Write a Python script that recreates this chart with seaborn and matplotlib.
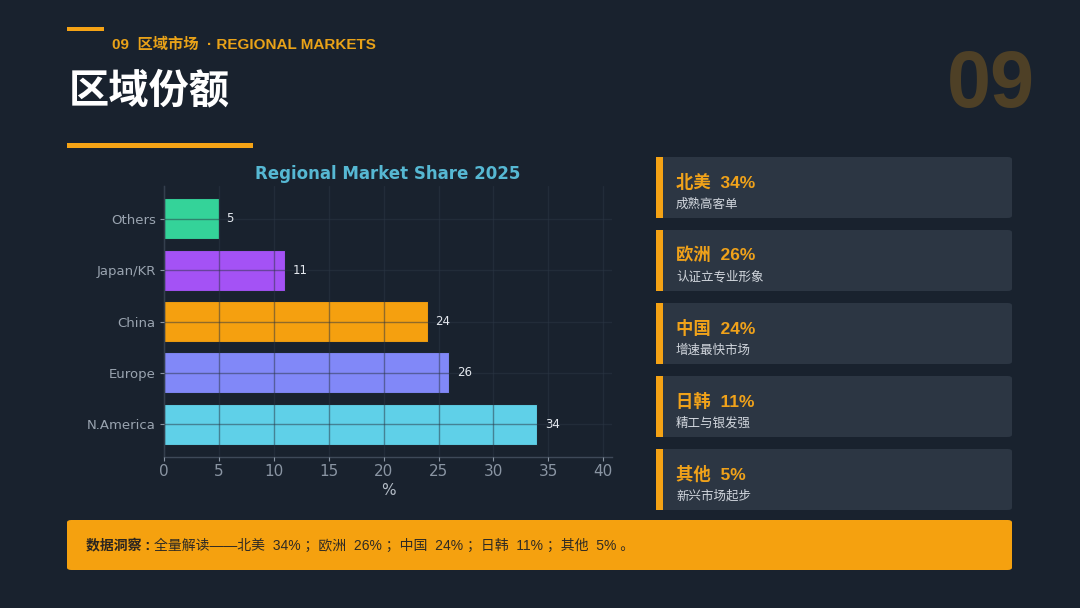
import matplotlib.pyplot as plt
import seaborn as sns
from matplotlib.patches import FancyBboxPatch, Rectangle

# data
regions = ['N.America', 'Europe', 'China', 'Japan/KR', 'Others']
shares = [34, 26, 24, 11, 5]
bar_colors = ['#5fd0e8', '#8188f8', '#f5a00f', '#a452f5', '#34d399']
cn_names = ['北美', '欧洲', '中国', '日韩', '其他']
cn_notes = ['成熟高客单', '认证立专业形象', '增速最快市场', '精工与银发强', '新兴市场起步']

BG = '#19222e'
ORANGE = '#f5a315'
CJK = ['Noto Sans CJK SC', 'DejaVu Sans']
MIX = ['Liberation Sans', 'Noto Sans CJK SC']

sns.set_theme(style='dark')
plt.rcParams['font.family'] = ['DejaVu Sans']

fig = plt.figure(figsize=(10.8, 6.08), dpi=100)
fig.patch.set_facecolor(BG)

# header decorations
fig.add_artist(Rectangle((67 / 1080, 1 - 31 / 608), 37 / 1080, 4 / 608,
                         color=ORANGE, lw=0))
fig.text(112 / 1080, 1 - 45 / 608, '09  区域市场  · REGIONAL MARKETS', family=MIX,
         fontsize=11, fontweight='bold', color='#e9a218', va='center')
fig.text(69 / 1080, 1 - 91 / 608, '区域份额', family=CJK, fontsize=29,
         fontweight='bold', color='white', va='center')
fig.add_artist(Rectangle((67 / 1080, 1 - 148 / 608), 186 / 1080, 5 / 608,
                         color=ORANGE, lw=0))
fig.text(1035 / 1080, 1 - 86 / 608, '09', family='Liberation Sans', fontsize=57,
         fontweight='bold', color='#4e4026', ha='right', va='center')

# bar chart
ax = fig.add_axes([164 / 1080, 1 - 457 / 608, 448 / 1080, 271 / 608])
ax.set_facecolor(BG)
order = regions[::-1]
sns.barplot(x=shares, y=regions, hue=regions, order=order, hue_order=regions,
            palette=bar_colors, orient='h', legend=False, width=0.8,
            saturation=1, edgecolor='#1b2530', linewidth=0.8, ax=ax)
ax.set_xlim(0, max(shares) * 1.2)
ax.set_ylim(len(regions) - 1 + 0.64, -0.64)
ax.set_xticks(range(0, 41, 5))
ax.set_axisbelow(False)
ax.grid(True, color='#2b3644', alpha=0.5, lw=1)
for i, r in enumerate(order):
    v = shares[regions.index(r)]
    ax.text(v + 0.7, i, str(v), va='center', ha='left', fontsize=8.5,
            color='#e4e8ee')
ax.set_title('Regional Market Share 2025', color='#56b8d3', fontsize=12,
             fontweight='bold', pad=5)
ax.set_xlabel('%', color='#b4bcc6', fontsize=11, labelpad=3)
ax.set_ylabel('')
ax.tick_params(axis='x', colors='#8a95a3', labelsize=11, length=3, width=0.8,
               pad=2, bottom=True)
ax.tick_params(axis='y', colors='#8a95a3', labelsize=9.5, length=3, width=0.8,
               pad=3, left=True)
for lab in ax.get_yticklabels():
    lab.set_color('#9aa4b0')
for s in ['top', 'right']:
    ax.spines[s].set_visible(False)
for s in ['left', 'bottom']:
    ax.spines[s].set_color('#3e4958')
    ax.spines[s].set_linewidth(1)

# side cards
card_x, card_w, card_h = 656, 356, 61
for k, (name, v, note) in enumerate(zip(cn_names, shares, cn_notes)):
    top = 157 + k * 73
    y0 = 1 - (top + card_h) / 608
    fig.add_artist(FancyBboxPatch((card_x / 1080, y0), card_w / 1080, card_h / 608,
                                  boxstyle='round,pad=0,rounding_size=0.004',
                                  fc='#2c3643', ec='none'))
    fig.add_artist(Rectangle((card_x / 1080, y0), 7 / 1080, card_h / 608,
                             color=ORANGE, lw=0))
    fig.text(676 / 1080, 1 - (top + 25) / 608, f'{name}  {v}%', family=MIX,
             fontsize=12.5, fontweight='bold', color='#f0a21a', va='center')
    fig.text(676 / 1080, 1 - (top + 47) / 608, note, family=CJK, fontsize=9,
             color='#d2d7de', va='center')

# bottom banner
fig.add_artist(FancyBboxPatch((67 / 1080, 1 - 570 / 608), 945 / 1080, 50 / 608,
                              boxstyle='round,pad=0,rounding_size=0.004',
                              fc='#f5a10f', ec='none'))
t1 = fig.text(86 / 1080, 1 - 546 / 608, '数据洞察 :', family=MIX, fontsize=10,
              fontweight='bold', color='#2a2520', va='center')
summary = ' ；'.join(f'{n}  {v}%' for n, v in zip(cn_names, shares)) + ' 。'
renderer = fig.canvas.get_renderer()
bb = t1.get_window_extent(renderer)
fig.text((bb.x1 + 4) / 1080, 1 - 546 / 608, '全量解读——' + summary, family=MIX,
         fontsize=10, color='#2e2a24', va='center')

fig.savefig('out.png', dpi=100, facecolor=BG)
